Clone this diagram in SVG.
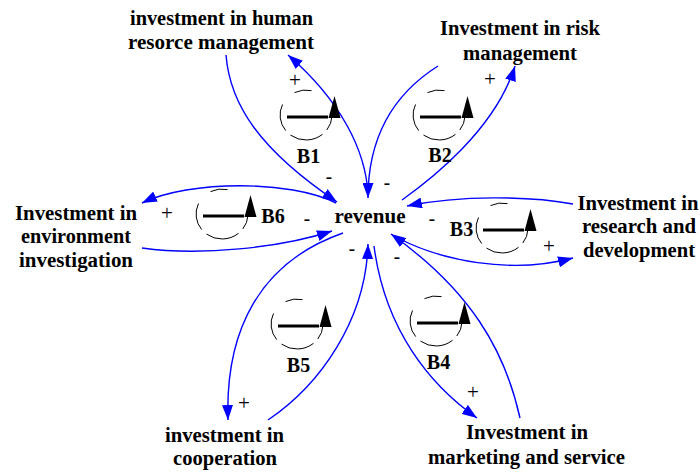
<svg xmlns="http://www.w3.org/2000/svg" xmlns:xlink="http://www.w3.org/1999/xlink" width="700" height="472" viewBox="0 0 700 472">
<style>
.lbl{font-family:"Liberation Serif","Times New Roman",serif;font-weight:bold;font-size:20px;fill:#000;text-anchor:middle}
.pol{font-family:"Liberation Serif","Times New Roman",serif;font-size:21px;fill:#000;text-anchor:middle}
.neg{font-weight:bold;font-size:19px}
.link{fill:none;stroke:#0000FF;stroke-width:1.4;marker-end:url(#ah)}
.arc{fill:none;stroke:#000;stroke-width:1}
</style>
<defs>
<marker id="ah" viewBox="0 0 15 11" refX="15" refY="5.5" markerWidth="15" markerHeight="11" markerUnits="userSpaceOnUse" orient="auto">
<path d="M0,0 L15,5.5 L0,11 z" fill="#0000FF"/>
</marker>
<g id="loop">
<path class="arc" d="M-11.5,-22.4 A26,25 0 0 1 5.5,-24.4"/>
<path class="arc" d="M-23.5,-10.5 A26,25 0 0 0 -20.3,15.6"/>
<path class="arc" d="M16.5,19.3 A26,25 0 0 1 -15.5,20.1"/>
<path class="arc" d="M26,1 A26,25 0 0 1 20.8,15"/>
<line x1="-19" y1="2" x2="22" y2="2" stroke="#000" stroke-width="3"/>
<path d="M28.5,-19 L34.5,3 L22.5,3 z" fill="#000"/>
</g>
</defs>
<g id="connectors">
<path class="link" d="M226,55 C230,105 260,150 337,202"/>
<path class="link" d="M368,195 C366,150 340,100 288,55"/>
<path class="link" d="M438,66 C400,90 368,130 368,198"/>
<path class="link" d="M402,200 C430,180 495,130 515,66"/>
<path class="link" d="M573,204 C530,196 460,195 407,206"/>
<path class="link" d="M398,238 C440,260 510,275 573,258"/>
<path class="link" d="M520,418 C505,350 470,290 391,234"/>
<path class="link" d="M374,246 C385,330 430,385 477,418"/>
<path class="link" d="M268,420 C320,385 366,320 368,244"/>
<path class="link" d="M343,233 C260,262 225,330 228,420"/>
<path class="link" d="M336,203 C290,180 190,180 142,203"/>
<path class="link" d="M142,248 C200,256 280,248 332,231"/>
</g>
<g id="revenue"><text class="lbl" x="370" y="223" textLength="71" lengthAdjust="spacingAndGlyphs">revenue</text></g>
<g id="hr">
<text class="lbl" x="221.5" y="25" textLength="183" lengthAdjust="spacingAndGlyphs">investment in human</text>
<text class="lbl" x="221" y="49" textLength="186" lengthAdjust="spacingAndGlyphs">resorce management</text>
</g>
<g id="risk">
<text class="lbl" x="520" y="35" textLength="160" lengthAdjust="spacingAndGlyphs">Investment in risk</text>
<text class="lbl" x="520" y="60" textLength="114" lengthAdjust="spacingAndGlyphs">management</text>
</g>
<g id="env">
<text class="lbl" x="76" y="220" textLength="122" lengthAdjust="spacingAndGlyphs">Investment in</text>
<text class="lbl" x="76" y="243" textLength="110" lengthAdjust="spacingAndGlyphs">environment</text>
<text class="lbl" x="76" y="267" textLength="114" lengthAdjust="spacingAndGlyphs">investigation</text>
</g>
<g id="rd">
<text class="lbl" x="638" y="210" textLength="121" lengthAdjust="spacingAndGlyphs">Investment in</text>
<text class="lbl" x="639" y="233" textLength="114" lengthAdjust="spacingAndGlyphs">research and</text>
<text class="lbl" x="639" y="257" textLength="112" lengthAdjust="spacingAndGlyphs">development</text>
</g>
<g id="coop">
<text class="lbl" x="224.5" y="442" textLength="119" lengthAdjust="spacingAndGlyphs">investment in</text>
<text class="lbl" x="225" y="465" textLength="104" lengthAdjust="spacingAndGlyphs">cooperation</text>
</g>
<g id="mkt">
<text class="lbl" x="527" y="439" textLength="122" lengthAdjust="spacingAndGlyphs">Investment in</text>
<text class="lbl" x="526.5" y="464" textLength="197" lengthAdjust="spacingAndGlyphs">marketing and service</text>
</g>
<g id="B1"><use xlink:href="#loop" href="#loop" x="306" y="115"/><text class="lbl" x="308.5" y="163">B1</text></g>
<g id="B2"><use xlink:href="#loop" href="#loop" x="439" y="115"/><text class="lbl" x="440" y="162">B2</text></g>
<g id="B3"><use xlink:href="#loop" href="#loop" x="502" y="228"/><text class="lbl" x="461.5" y="236">B3</text></g>
<g id="B4"><use xlink:href="#loop" href="#loop" x="436" y="321"/><text class="lbl" x="438.5" y="369">B4</text></g>
<g id="B5"><use xlink:href="#loop" href="#loop" x="297" y="324"/><text class="lbl" x="298.5" y="372">B5</text></g>
<g id="B6"><use xlink:href="#loop" href="#loop" x="222" y="214"/><text class="lbl" x="273" y="223">B6</text></g>
<g id="polarities">
<text class="pol" x="295" y="87">+</text>
<text class="pol" x="490" y="85.5">+</text>
<text class="pol" x="167" y="219.5">+</text>
<text class="pol" x="549" y="252.5">+</text>
<text class="pol" x="244" y="409.5">+</text>
<text class="pol" x="473" y="398.5">+</text>
<text class="pol neg" x="329" y="183">-</text>
<text class="pol neg" x="387" y="189">-</text>
<text class="pol neg" x="307" y="225">-</text>
<text class="pol neg" x="432" y="225">-</text>
<text class="pol neg" x="352" y="255">-</text>
<text class="pol neg" x="397" y="263">-</text>
</g>
</svg>
